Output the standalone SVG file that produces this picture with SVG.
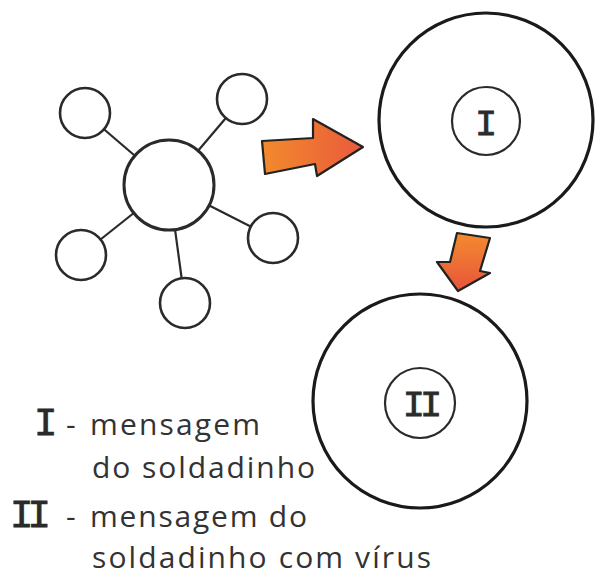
<svg xmlns="http://www.w3.org/2000/svg" width="595" height="577" viewBox="0 0 595 577">
  <defs>
    <linearGradient id="gRight" x1="0" y1="0" x2="1" y2="0">
      <stop offset="0" stop-color="#f28a2c"/>
      <stop offset="1" stop-color="#ea5a3c"/>
    </linearGradient>
    <linearGradient id="gDown" x1="0" y1="0" x2="0" y2="1">
      <stop offset="0" stop-color="#f38b2e"/>
      <stop offset="1" stop-color="#e8543c"/>
    </linearGradient>
  </defs>
  <style>
    .conn { stroke: #2a2a2a; stroke-width: 2.2; fill: none; }
    .small { fill: #ffffff; stroke: #2a2a2a; stroke-width: 2.6; }
    .hub { fill: #ffffff; stroke: #2a2a2a; stroke-width: 3; }
    .big { fill: #ffffff; stroke: #1a1a1a; stroke-width: 3.2; }
    .inner { fill: #ffffff; stroke: #2a2a2a; stroke-width: 2.2; }
    .arrow { stroke: #222222; stroke-width: 2.2; stroke-linejoin: round; }
    .num { font-family: "Liberation Mono", "DejaVu Sans Mono", monospace; fill: #2a2a2a; stroke: #2a2a2a; stroke-width: 0.8; }
    .lbl { font-family: "Open Sans", "Liberation Sans", sans-serif; font-size: 30px; fill: #333333; }
  </style>
  <rect x="0" y="0" width="595" height="577" fill="#ffffff"/>

  <g id="connectors">
    <line class="conn" x1="169" y1="185" x2="85" y2="113"/>
    <line class="conn" x1="169" y1="185" x2="242" y2="99"/>
    <line class="conn" x1="169" y1="185" x2="81" y2="255"/>
    <line class="conn" x1="169" y1="185" x2="185" y2="303"/>
    <line class="conn" x1="169" y1="185" x2="273" y2="238"/>
    <polygon class="arrow" fill="url(#gRight)" points="262,141 313,138 313,119 363,147 317,176 315,164 265,174"/>
    <polygon class="arrow" fill="url(#gDown)" points="457,233 490,238 480,271 490,273 458,291 437,262 450,262"/>
  </g>

  <g id="hub">
    <circle class="hub" cx="169" cy="185" r="45"/>
  </g>
  <g id="sat-top-left"><circle class="small" cx="85" cy="113" r="25"/></g>
  <g id="sat-top-right"><circle class="small" cx="242" cy="99" r="25"/></g>
  <g id="sat-left-bottom"><circle class="small" cx="81" cy="255" r="25"/></g>
  <g id="sat-bottom"><circle class="small" cx="185" cy="303" r="25"/></g>
  <g id="sat-right"><circle class="small" cx="273" cy="238" r="25"/></g>

  <g id="cell-I">
    <circle class="big" cx="486" cy="120" r="107"/>
    <circle class="inner" cx="486" cy="121" r="34"/>
    <text class="num" x="486" y="135" font-size="37" text-anchor="middle">I</text>
  </g>

  <g id="cell-II">
    <circle class="big" cx="420" cy="401" r="107"/>
    <circle class="inner" cx="420" cy="403" r="35"/>
    <text class="num" x="420" y="416" font-size="37" letter-spacing="-5" text-anchor="middle">II</text>
  </g>

  <g id="legend">
    <text class="num" x="34" y="435" font-size="39">I</text>
    <text class="lbl" x="66" y="435">-</text>
    <text class="lbl" x="90" y="435" textLength="170">mensagem</text>
    <text class="lbl" x="92" y="478" textLength="223">do soldadinho</text>
    <text class="num" x="10" y="527" font-size="39" letter-spacing="-6">II</text>
    <text class="lbl" x="66" y="527">-</text>
    <text class="lbl" x="90" y="527" textLength="217">mensagem do</text>
    <text class="lbl" x="92" y="568" textLength="339">soldadinho com vírus</text>
  </g>
</svg>
